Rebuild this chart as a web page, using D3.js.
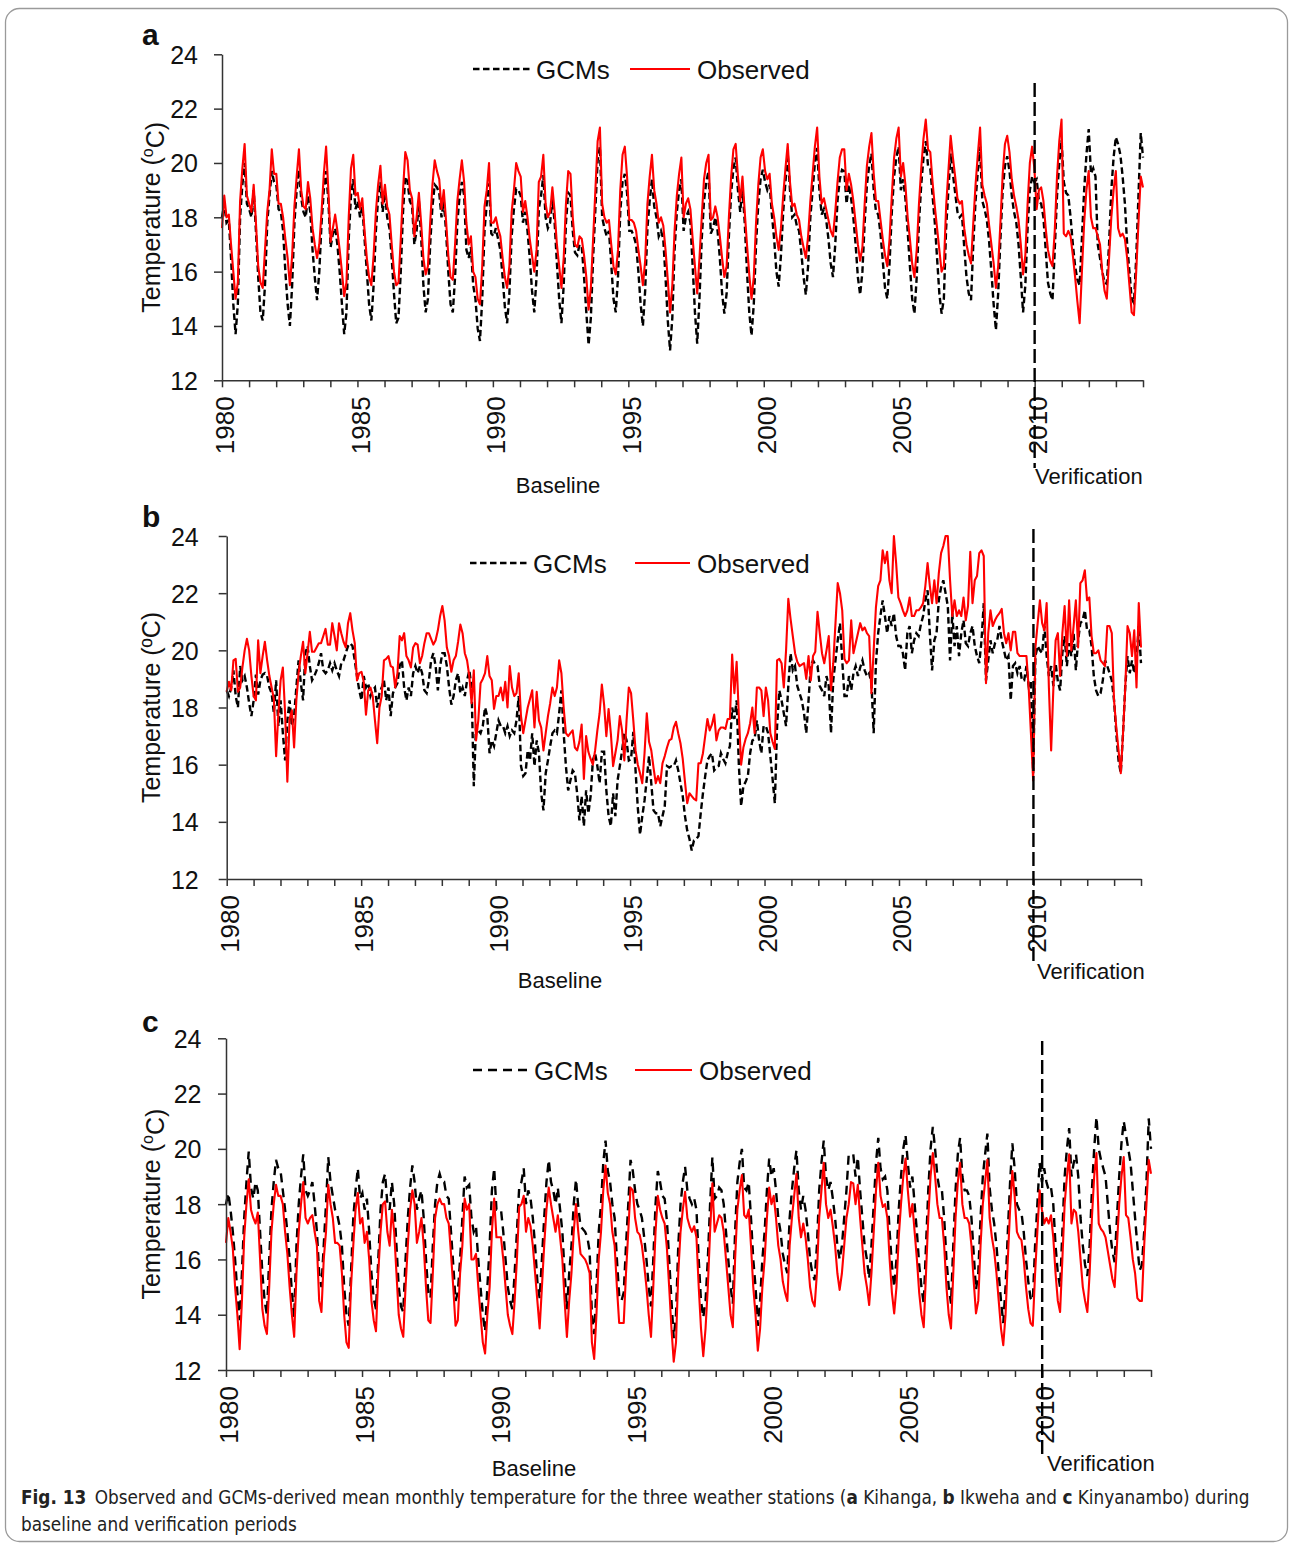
<!DOCTYPE html>
<html>
<head>
<meta charset="utf-8">
<script src="https://cdn.jsdelivr.net/npm/d3@7"></script>
<style>
  body { margin: 0; background: #fff; }
  svg text { font-family: "Liberation Sans", Arial, sans-serif; fill: #111; }
</style>
</head>
<body>
<svg id="fig" width="1290" height="1544"></svg>
<script>
// ---- data: mean monthly temperature (degC), one row per year 1980..2013 ----
var tempTicks = [12, 14, 16, 18, 20, 22, 24];
var yearTicks = d3.range(1980, 2015);
var labelledYears = [1980, 1985, 1990, 1995, 2000, 2005, 2010];
var splitYear = 2010;

// a Kihanga
var kihangaGcm = [
  [18.0, 18.5, 17.8, 17.9, 16.5, 14.8, 13.7, 14.8, 18.0, 19.2, 20.0, 18.5],
  [18.3, 18.0, 19.0, 17.5, 15.8, 14.5, 14.2, 15.5, 17.8, 18.8, 19.7, 19.3],
  [19.2, 18.3, 18.2, 17.5, 16.0, 14.8, 14.0, 15.5, 17.8, 19.0, 19.75, 18.7],
  [18.2, 18.0, 18.8, 18.2, 16.8, 15.8, 14.95, 16.0, 17.8, 19.0, 19.7, 18.6],
  [16.9, 17.4, 17.6, 17.0, 16.0, 14.8, 13.7, 14.5, 17.2, 18.8, 19.4, 18.3],
  [18.6, 18.0, 18.4, 17.2, 16.0, 14.8, 14.2, 15.5, 17.5, 18.7, 19.3, 18.2],
  [18.9, 18.0, 17.6, 16.5, 15.2, 14.1, 14.3, 16.0, 18.2, 19.5, 19.3, 18.6],
  [18.4, 17.0, 17.5, 18.6, 17.3, 15.5, 14.5, 15.0, 17.0, 18.4, 19.2, 19.1],
  [18.9, 18.0, 18.6, 17.5, 16.0, 14.8, 14.5, 15.8, 17.8, 18.8, 19.3, 18.8],
  [16.8, 16.5, 16.9, 15.5, 15.0, 13.9, 13.45, 15.0, 17.5, 18.5, 19.25, 17.4],
  [17.3, 17.6, 17.2, 16.8, 15.8, 14.7, 14.1, 15.2, 17.3, 18.3, 19.05, 19.0],
  [18.8, 17.8, 18.2, 17.5, 16.5, 15.3, 14.5, 15.8, 18.3, 18.8, 19.55, 18.0],
  [17.6, 17.8, 18.7, 17.8, 16.3, 15.0, 14.1, 15.5, 17.8, 18.9, 18.8, 17.5],
  [16.7, 16.6, 17.0, 16.9, 15.8, 14.5, 13.3, 14.3, 16.5, 18.3, 20.1, 20.6],
  [18.0, 17.6, 17.3, 17.5, 16.3, 15.0, 14.5, 15.8, 18.2, 19.3, 19.6, 18.9],
  [17.5, 17.5, 17.3, 17.0, 16.0, 14.8, 14.0, 15.3, 17.6, 18.6, 19.4, 18.4],
  [18.0, 17.3, 17.5, 17.2, 15.8, 14.2, 13.1, 14.3, 16.8, 18.2, 19.0, 19.4],
  [17.5, 18.0, 18.2, 17.8, 16.2, 14.5, 13.35, 15.0, 17.2, 18.6, 19.3, 19.7],
  [17.4, 17.6, 18.0, 17.5, 16.5, 15.2, 14.45, 15.2, 17.3, 18.9, 19.8, 20.2],
  [19.0, 18.2, 19.1, 17.8, 16.0, 14.5, 13.65, 14.8, 17.0, 18.5, 19.4, 19.75],
  [19.3, 19.0, 19.2, 18.1, 17.2, 16.0, 15.45, 16.6, 18.2, 19.3, 20.35, 19.0],
  [18.0, 18.1, 17.7, 17.5, 16.7, 15.8, 15.15, 16.2, 18.0, 19.0, 20.0, 20.55],
  [19.0, 18.1, 18.3, 17.9, 17.2, 16.3, 15.8, 17.0, 18.6, 19.4, 19.75, 19.7],
  [18.5, 19.2, 18.7, 18.0, 17.0, 15.8, 15.15, 16.0, 17.8, 19.2, 19.9, 20.35],
  [19.0, 18.2, 18.1, 17.4, 16.4, 15.4, 15.0, 16.3, 18.2, 19.5, 20.2, 20.6],
  [19.0, 19.4, 18.7, 17.5, 16.2, 15.0, 14.45, 15.8, 17.8, 19.2, 20.2, 20.8],
  [19.9, 19.8, 18.8, 17.8, 16.5, 15.2, 14.45, 15.0, 17.6, 19.0, 20.35, 19.6],
  [18.9, 18.2, 18.0, 18.1, 16.9, 15.8, 15.2, 14.95, 17.0, 18.6, 19.7, 20.6],
  [18.6, 18.3, 17.9, 17.1, 16.0, 14.8, 13.85, 15.2, 17.2, 19.0, 19.9, 20.25],
  [19.7, 18.8, 18.2, 17.8, 17.0, 15.8, 14.5, 15.5, 17.6, 19.0, 19.5, 19.3],
  [19.4, 18.6, 18.5, 18.0, 16.8, 15.6, 15.2, 14.95, 16.8, 18.8, 20.0, 20.85],
  [19.3, 18.9, 18.8, 18.0, 17.0, 16.2, 15.7, 15.5, 17.2, 19.0, 20.3, 21.25],
  [19.6, 19.8, 19.5, 17.0, 16.5, 16.0, 15.6, 15.55, 17.0, 19.0, 20.2, 20.95],
  [20.7, 20.3, 19.5, 18.5, 17.0, 16.0, 15.0, 14.85, 16.5, 18.8, 21.1, 20.2]
];
var kihangaObs = [
  [17.6, 18.8, 18.0, 18.1, 17.0, 16.0, 15.0, 15.6, 18.6, 19.8, 20.7, 18.8],
  [18.5, 18.2, 19.2, 17.8, 16.2, 15.6, 15.4, 16.8, 18.2, 19.0, 20.5, 19.6],
  [19.6, 18.5, 18.5, 18.0, 17.2, 16.5, 15.5, 16.6, 18.4, 19.5, 20.5, 19.0],
  [18.4, 18.3, 19.3, 18.7, 17.6, 17.0, 16.5, 17.0, 18.2, 19.6, 20.6, 19.0],
  [17.1, 17.6, 18.1, 17.5, 16.8, 16.0, 15.1, 15.6, 18.0, 19.8, 20.3, 18.8],
  [18.9, 18.3, 18.7, 17.5, 16.5, 15.8, 15.5, 16.6, 18.2, 19.2, 19.9, 18.5],
  [19.2, 18.4, 18.1, 17.0, 16.0, 15.5, 15.6, 17.2, 19.0, 20.4, 20.1, 19.0],
  [18.7, 17.3, 18.0, 18.9, 17.8, 16.5, 15.9, 16.2, 17.8, 19.2, 20.1, 19.7],
  [19.4, 18.3, 19.0, 17.9, 16.6, 15.8, 15.7, 17.0, 18.6, 19.4, 20.1, 19.3],
  [17.8, 17.0, 17.3, 16.0, 15.8, 15.0, 14.8, 16.2, 18.4, 19.0, 20.0, 17.8],
  [17.8, 18.0, 17.6, 17.3, 16.5, 15.8, 15.4, 16.2, 18.2, 19.0, 20.0, 19.7],
  [19.5, 18.2, 18.6, 18.0, 17.2, 16.6, 16.0, 16.8, 19.3, 19.5, 20.3, 18.5],
  [18.0, 18.2, 19.1, 18.2, 17.0, 16.2, 15.4, 16.5, 18.5, 19.7, 19.6, 18.0],
  [17.0, 16.9, 17.3, 17.2, 16.6, 15.8, 14.6, 15.4, 17.2, 19.0, 20.8, 21.3],
  [18.5, 18.0, 17.8, 17.9, 17.0, 16.2, 15.9, 16.8, 19.0, 20.3, 20.6, 19.5],
  [17.9, 17.9, 17.8, 17.5, 16.8, 16.2, 15.5, 16.4, 18.5, 19.5, 20.3, 19.0],
  [18.5, 17.8, 18.0, 17.7, 16.8, 15.7, 14.5, 15.5, 17.5, 18.8, 19.6, 20.2],
  [18.0, 18.5, 18.7, 18.3, 17.2, 16.2, 15.2, 16.5, 18.0, 19.4, 20.0, 20.3],
  [17.9, 18.0, 18.4, 18.0, 17.3, 16.5, 15.8, 16.2, 18.0, 19.5, 20.5, 20.7],
  [19.5, 18.6, 19.5, 18.2, 17.0, 15.9, 15.0, 15.8, 17.8, 19.2, 20.2, 20.5],
  [19.7, 19.4, 19.6, 18.5, 18.0, 17.3, 16.8, 17.6, 18.8, 19.8, 20.7, 19.3],
  [18.4, 18.5, 18.1, 17.9, 17.3, 16.9, 16.5, 17.3, 18.6, 19.6, 20.6, 21.3],
  [19.5, 18.5, 18.7, 18.3, 17.9, 17.5, 17.3, 18.2, 19.3, 20.2, 20.5, 20.5],
  [19.0, 19.6, 19.2, 18.6, 17.8, 17.0, 16.4, 16.9, 18.5, 19.9, 20.6, 21.1],
  [19.6, 18.6, 18.6, 17.9, 17.2, 16.6, 16.2, 17.2, 18.8, 20.2, 20.9, 21.3],
  [19.5, 20.0, 19.2, 18.0, 17.2, 16.3, 15.8, 16.8, 18.5, 19.8, 20.9, 21.6],
  [20.5, 20.4, 19.3, 18.4, 17.6, 16.8, 16.0, 16.2, 18.4, 19.7, 21.0, 20.2],
  [19.5, 18.7, 18.5, 18.6, 17.6, 17.0, 16.6, 16.3, 17.8, 19.2, 20.3, 21.3],
  [19.2, 18.8, 18.5, 17.7, 17.0, 16.3, 15.4, 16.2, 17.8, 19.6, 20.7, 21.0],
  [20.4, 19.4, 18.8, 18.4, 17.9, 17.0, 15.9, 16.6, 18.5, 20.0, 20.6, 19.8],
  [18.3, 19.0, 19.1, 18.6, 17.6, 16.8, 16.4, 16.2, 17.5, 19.5, 20.8, 21.6],
  [17.4, 17.3, 17.5, 17.3, 16.6, 15.8, 14.9, 14.1, 16.0, 17.8, 19.0, 19.7],
  [18.0, 17.6, 17.6, 17.3, 17.0, 16.0, 15.3, 15.0, 16.5, 18.0, 19.0, 19.7],
  [17.6, 17.3, 17.4, 17.2, 16.5, 15.5, 14.5, 14.4, 16.0, 17.8, 19.5, 19.1]
];

// b Ikweha
var ikwehaGcm = [
  [18.6, 18.4, 18.7, 19.3, 18.4, 18.0, 19.45, 18.95, 19.1, 18.7, 18.15, 17.7],
  [18.25, 19.15, 18.45, 18.95, 19.15, 19.2, 19.1, 18.7, 18.5, 17.8, 18.95, 17.35],
  [18.25, 17.1, 16.15, 17.55, 18.25, 17.35, 17.7, 18.7, 19.65, 18.85, 18.25, 19.9],
  [20.15, 19.45, 18.95, 19.1, 19.3, 19.55, 19.9, 19.3, 19.2, 19.3, 19.55, 19.3],
  [19.55, 19.3, 19.1, 19.55, 19.65, 19.9, 20.15, 20.25, 20.15, 19.65, 19.1, 18.6],
  [18.25, 19.1, 18.7, 18.85, 18.4, 18.6, 18.7, 18.0, 18.5, 18.7, 18.95, 18.25],
  [18.7, 17.7, 18.5, 18.7, 18.85, 19.45, 19.65, 18.7, 18.25, 18.7, 18.4, 19.2],
  [19.45, 19.2, 19.45, 19.2, 18.6, 18.5, 18.95, 19.65, 19.9, 19.45, 18.6, 19.45],
  [19.9, 19.9, 19.45, 18.7, 18.1, 18.4, 18.95, 19.2, 18.5, 18.7, 18.4, 18.95],
  [19.3, 18.7, 15.25, 17.35, 17.2, 17.1, 17.35, 18.0, 17.7, 16.4, 16.85, 16.65],
  [17.1, 17.55, 17.35, 17.35, 17.1, 17.35, 17.0, 17.2, 17.1, 17.55, 18.4, 15.95],
  [15.6, 15.7, 16.5, 16.15, 17.1, 15.95, 16.85, 16.4, 15.0, 14.4, 15.7, 16.15],
  [16.65, 17.1, 17.2, 17.1, 17.8, 18.6, 17.1, 15.95, 15.1, 15.45, 15.8, 15.7],
  [15.0, 14.05, 14.9, 13.85, 15.1, 14.3, 14.9, 16.15, 16.4, 15.95, 15.35, 16.45],
  [16.45, 15.1, 14.2, 13.85, 15.0, 14.2, 15.45, 15.95, 16.5, 17.1, 16.85, 16.15],
  [16.2, 17.15, 15.8, 14.5, 13.55, 14.2, 14.75, 15.5, 16.3, 15.35, 14.4, 14.3],
  [14.3, 13.85, 14.2, 14.55, 15.95, 15.9, 15.95, 15.95, 16.15, 15.8, 15.35, 14.9],
  [14.2, 13.7, 13.4, 13.0, 13.35, 13.4, 13.5, 14.3, 15.0, 15.6, 16.15, 16.3],
  [16.4, 15.8, 15.9, 15.95, 16.4, 16.2, 16.05, 16.4, 16.65, 18.0, 17.6, 18.25],
  [15.95, 14.55, 15.25, 15.4, 15.6, 16.4, 16.85, 16.9, 17.55, 16.85, 16.4, 17.35],
  [17.35, 17.1, 16.3, 15.5, 14.65, 17.35, 18.6, 18.25, 17.8, 17.35, 18.75, 19.9],
  [19.3, 19.45, 18.75, 18.5, 18.25, 17.8, 17.1, 18.25, 19.45, 19.65, 19.5, 19.45],
  [18.75, 18.6, 18.4, 19.1, 18.75, 17.1, 18.95, 19.65, 20.35, 20.95, 19.65, 18.4],
  [18.4, 19.1, 18.6, 19.2, 19.45, 19.1, 19.4, 19.65, 19.3, 19.1, 19.2, 18.85],
  [17.1, 19.55, 20.6, 21.2, 21.75, 21.2, 20.6, 21.2, 20.85, 21.3, 20.5, 20.15],
  [20.15, 19.9, 19.3, 20.6, 20.85, 19.9, 20.35, 20.6, 20.5, 20.9, 21.2, 21.75],
  [22.1, 20.6, 19.3, 20.35, 20.6, 21.75, 22.2, 22.45, 22.0, 21.55, 19.65, 21.3],
  [20.15, 20.85, 19.8, 20.6, 21.05, 20.25, 20.15, 20.6, 20.85, 20.15, 19.8, 19.55],
  [20.35, 21.65, 18.95, 19.65, 20.35, 19.9, 20.25, 20.35, 20.85, 20.35, 20.0, 19.65],
  [19.8, 18.25, 19.45, 19.55, 19.2, 19.45, 18.95, 18.95, 19.45, 18.75, 18.9, 15.7],
  [19.8, 20.15, 20.0, 19.9, 20.85, 19.8, 19.1, 19.45, 18.75, 19.55, 18.9, 18.6],
  [19.9, 20.5, 19.45, 20.25, 19.8, 20.6, 19.3, 20.35, 20.95, 21.05, 21.4, 20.7],
  [20.7, 20.15, 19.1, 18.6, 18.4, 18.5, 18.95, 19.65, 19.45, 19.2, 18.95, 18.25],
  [17.1, 16.15, 15.7, 17.1, 18.75, 19.8, 19.2, 19.65, 19.2, 19.65, 20.85, 19.55]
];
var ikwehaObs = [
  [18.55, 18.9, 18.6, 19.65, 19.7, 18.55, 18.7, 19.4, 20.0, 20.4, 20.0, 19.1],
  [18.4, 18.25, 20.35, 19.2, 19.8, 20.3, 19.65, 19.1, 18.7, 18.3, 16.3, 17.8],
  [18.95, 19.4, 17.8, 15.4, 17.6, 17.9, 16.6, 18.25, 19.2, 19.8, 20.3, 19.2],
  [19.9, 20.65, 19.95, 19.95, 20.1, 20.25, 20.25, 20.5, 20.75, 20.2, 20.2, 20.95],
  [20.5, 20.0, 20.95, 20.6, 20.3, 20.1, 20.95, 21.3, 20.7, 20.25, 18.95, 19.2],
  [19.25, 18.9, 17.75, 18.6, 18.7, 18.4, 17.55, 16.75, 18.0, 18.4, 19.65, 19.7],
  [19.8, 19.45, 19.4, 18.7, 19.2, 20.5, 20.35, 20.6, 19.8, 19.65, 19.4, 20.1],
  [20.25, 20.2, 19.55, 19.8, 20.25, 20.6, 20.6, 20.4, 20.2, 20.35, 20.7, 21.2],
  [21.55, 21.05, 20.1, 19.8, 19.25, 19.65, 19.8, 20.3, 20.9, 20.6, 19.9, 19.65],
  [19.1, 18.15, 19.3, 16.85, 17.55, 18.85, 19.0, 19.2, 19.8, 19.1, 18.95, 17.95],
  [18.4, 18.4, 18.7, 18.25, 18.9, 18.0, 19.45, 18.7, 18.4, 18.5, 19.2, 17.7],
  [17.1, 17.55, 18.0, 18.3, 18.6, 17.3, 18.55, 17.55, 17.3, 16.5, 17.1, 17.7],
  [18.15, 18.7, 18.4, 18.7, 19.65, 19.2, 18.0, 17.1, 17.0, 17.1, 17.2, 16.6],
  [16.5, 16.8, 17.4, 15.5, 17.0, 16.45, 16.2, 16.0, 16.5, 17.2, 17.8, 18.8],
  [18.1, 17.0, 17.95, 17.1, 15.95, 16.4, 16.85, 17.7, 17.2, 16.15, 17.55, 18.7],
  [18.5, 17.55, 16.5, 16.0, 15.7, 15.35, 16.4, 17.8, 16.8, 16.5, 15.9, 15.35],
  [15.6, 15.35, 16.05, 16.3, 16.6, 16.85, 16.9, 17.3, 17.5, 17.1, 16.75, 16.2],
  [15.4, 14.65, 15.0, 14.9, 14.8, 14.75, 16.05, 16.05, 16.4, 17.0, 17.6, 17.2],
  [17.4, 17.75, 16.85, 17.2, 17.3, 17.3, 17.25, 17.6, 17.6, 19.85, 18.5, 19.6],
  [17.7, 16.0, 16.6, 16.9, 17.1, 17.45, 18.0, 17.1, 18.7, 18.7, 18.6, 17.7],
  [18.7, 18.25, 17.1, 16.8, 16.55, 19.65, 19.7, 19.55, 18.7, 20.0, 21.8, 21.1],
  [20.5, 19.9, 19.6, 19.45, 19.5, 19.55, 19.0, 19.8, 18.95, 19.8, 19.95, 21.35],
  [20.6, 19.9, 19.55, 20.0, 20.5, 18.6, 19.55, 20.95, 22.35, 22.0, 21.4, 19.7],
  [19.55, 19.65, 21.05, 19.9, 20.25, 20.6, 20.95, 20.7, 20.8, 20.6, 20.5, 18.5],
  [20.0, 21.5, 22.25, 22.45, 23.5, 23.05, 23.45, 22.45, 22.0, 24.0, 23.05, 21.85],
  [21.65, 21.4, 21.2, 21.4, 21.85, 21.2, 21.2, 21.4, 21.4, 21.5, 21.65, 22.25],
  [23.05, 22.25, 21.65, 22.45, 21.65, 22.7, 23.4, 23.65, 24.0, 24.0, 22.45, 21.2],
  [21.75, 21.2, 21.4, 21.2, 21.85, 21.05, 21.55, 23.45, 21.65, 22.45, 22.6, 23.4],
  [23.5, 23.3, 18.85, 20.6, 21.4, 20.85, 21.05, 21.2, 21.3, 21.45, 20.6, 20.25],
  [20.6, 20.0, 20.65, 20.65, 19.9, 19.8, 19.8, 19.8, 19.8, 18.7, 17.1, 15.45],
  [20.1, 20.95, 21.75, 20.95, 20.7, 21.65, 18.7, 16.5, 18.7, 20.35, 20.6, 19.1],
  [20.6, 21.55, 19.8, 21.75, 20.0, 20.85, 21.75, 20.1, 22.35, 22.45, 22.8, 21.75],
  [21.85, 20.5, 19.9, 19.9, 20.0, 19.65, 19.55, 19.45, 20.85, 20.85, 20.6, 18.25],
  [17.3, 16.5, 15.7, 17.1, 18.7, 20.85, 20.6, 19.8, 20.7, 18.7, 21.65, 20.1]
];

// c Kinyanambo
var kinyanamboGcm = [
  [18.0, 18.4, 17.8, 17.0, 16.0, 14.8, 13.8, 15.5, 17.5, 18.8, 19.9, 18.6],
  [18.2, 18.8, 18.5, 17.0, 15.5, 14.5, 14.0, 16.0, 17.8, 18.8, 19.6, 19.3],
  [19.2, 18.5, 17.8, 17.0, 16.0, 14.8, 13.9, 16.5, 18.0, 19.0, 19.8, 18.5],
  [18.3, 18.5, 18.8, 18.0, 17.0, 15.5, 15.0, 16.5, 18.0, 19.7, 18.8, 18.3],
  [17.8, 17.6, 17.2, 16.5, 15.0, 14.0, 13.6, 15.5, 17.5, 18.5, 19.3, 18.2],
  [18.4, 17.8, 18.2, 17.0, 15.5, 14.6, 14.2, 16.0, 17.8, 18.8, 19.1, 18.0],
  [17.8, 18.8, 18.0, 16.5, 15.0, 14.3, 14.1, 16.0, 17.5, 18.6, 19.4, 18.8],
  [17.8, 18.2, 18.5, 17.5, 16.0, 14.8, 14.6, 16.5, 18.0, 18.8, 19.1, 18.8],
  [18.8, 18.3, 18.2, 17.0, 15.8, 14.5, 14.8, 16.0, 17.5, 19.0, 18.6, 18.7],
  [17.5, 17.0, 17.2, 16.0, 15.0, 14.0, 13.4, 15.0, 16.5, 18.5, 19.3, 17.8],
  [17.8, 17.8, 17.0, 16.0, 15.0, 14.5, 14.2, 15.5, 17.0, 18.6, 18.8, 19.3],
  [18.0, 18.5, 18.2, 17.5, 16.5, 15.2, 14.6, 16.0, 17.5, 18.8, 19.6, 18.8],
  [18.5, 18.0, 18.6, 17.8, 17.0, 15.5, 14.2, 15.5, 16.5, 18.0, 18.9, 17.9],
  [17.2, 17.1, 17.0, 16.8, 16.3, 14.0, 13.3, 15.0, 17.0, 18.0, 19.5, 20.3],
  [19.2, 18.8, 18.0, 17.5, 16.0, 14.7, 14.5, 14.8, 16.5, 18.0, 19.6, 19.2],
  [18.5, 18.0, 17.8, 17.5, 16.8, 16.0, 15.0, 14.3, 16.0, 18.0, 19.2, 18.8],
  [18.3, 18.2, 17.4, 16.0, 14.5, 13.15, 14.0, 16.5, 18.0, 18.8, 19.35, 18.5],
  [18.2, 18.0, 18.2, 17.8, 16.0, 14.5, 13.9, 14.5, 16.0, 18.0, 19.7, 18.2],
  [18.3, 18.6, 18.5, 18.0, 17.0, 16.0, 15.0, 14.4, 17.0, 18.8, 19.5, 20.0],
  [18.6, 18.5, 18.8, 17.5, 16.0, 15.0, 13.6, 14.5, 16.0, 17.0, 18.5, 19.65],
  [19.0, 19.3, 18.5, 17.5, 17.0, 16.2, 15.8, 15.5, 17.5, 18.5, 19.3, 19.95],
  [18.5, 17.8, 18.3, 17.8, 17.0, 16.0, 15.5, 15.25, 16.5, 18.5, 19.5, 20.3],
  [19.0, 18.5, 18.8, 18.2, 17.5, 16.5, 16.0, 16.5, 17.5, 18.5, 19.8, 19.8],
  [19.8, 19.0, 19.7, 18.5, 17.5, 16.5, 16.0, 15.3, 16.5, 18.0, 19.5, 20.4],
  [19.3, 18.9, 19.0, 18.5, 17.0, 15.8, 15.0, 16.0, 17.8, 19.0, 20.0, 20.5],
  [19.5, 18.6, 19.0, 18.0, 17.0, 15.8, 15.0, 14.4, 16.5, 18.5, 20.0, 20.8],
  [20.0, 19.0, 18.5, 18.5, 17.5, 16.0, 15.0, 14.4, 16.5, 18.5, 19.8, 20.4],
  [19.0, 18.5, 18.5, 18.3, 17.5, 16.2, 14.9, 15.5, 17.5, 19.0, 19.8, 20.55],
  [18.6, 17.8, 17.3, 16.5, 15.5, 14.5, 13.7, 15.0, 17.0, 18.8, 20.2, 19.3],
  [18.0, 17.8, 17.7, 17.0, 16.0, 15.2, 14.6, 14.5, 16.5, 18.0, 19.5, 18.8],
  [19.3, 18.8, 18.5, 18.6, 18.0, 16.5, 15.5, 15.0, 17.0, 19.0, 20.0, 20.75],
  [19.0, 19.5, 19.8, 19.0, 17.5, 16.5, 15.8, 15.4, 16.5, 18.5, 20.0, 21.15],
  [20.0, 19.6, 19.3, 19.0, 18.0, 17.0, 16.3, 15.9, 17.5, 19.0, 20.2, 21.0],
  [20.5, 20.0, 19.5, 18.5, 17.5, 16.5, 15.6, 15.8, 17.0, 18.8, 21.1, 20.0]
];
var kinyanamboObs = [
  [16.6, 17.5, 17.0, 16.4, 15.0, 14.0, 12.75, 14.5, 16.8, 18.0, 18.9, 17.8],
  [17.5, 17.3, 17.7, 16.0, 14.2, 13.6, 13.3, 15.0, 17.0, 18.0, 18.7, 18.3],
  [18.3, 18.0, 17.0, 16.2, 15.0, 14.0, 13.2, 15.5, 17.0, 18.0, 18.8, 17.5],
  [17.3, 17.5, 17.6, 17.0, 16.5, 14.5, 14.1, 16.0, 17.0, 18.7, 18.0, 17.5],
  [16.6, 16.6, 16.5, 15.5, 14.0, 13.0, 12.8, 15.0, 16.5, 17.8, 18.4, 17.3],
  [17.5, 16.6, 17.0, 16.0, 14.5, 13.8, 13.4, 15.5, 17.0, 18.0, 18.1, 17.0],
  [16.5, 17.8, 17.0, 15.5, 14.0, 13.5, 13.2, 15.0, 16.5, 17.8, 18.5, 18.0],
  [16.6, 17.0, 17.5, 16.5, 15.0, 13.8, 13.7, 15.5, 17.5, 18.0, 18.2, 18.0],
  [18.0, 17.5, 17.3, 16.2, 15.0, 13.6, 13.8, 15.5, 16.5, 18.2, 17.8, 18.0],
  [16.0, 16.0, 16.2, 15.0, 14.0, 13.0, 12.6, 14.0, 15.0, 17.0, 18.2, 16.8],
  [16.8, 16.8, 16.0, 15.0, 14.0, 13.6, 13.3, 14.5, 16.0, 17.9, 18.0, 18.3],
  [17.0, 17.5, 17.2, 16.5, 15.5, 14.5, 13.5, 15.0, 16.5, 17.8, 18.6, 18.0],
  [17.5, 17.0, 17.6, 16.8, 16.0, 14.5, 13.2, 14.5, 15.5, 17.0, 18.0, 17.0],
  [16.2, 16.1, 16.0, 15.8, 15.5, 13.0, 12.4, 14.0, 16.0, 17.0, 18.5, 19.4],
  [18.4, 18.0, 17.0, 16.5, 15.0, 13.7, 13.7, 13.7, 15.5, 17.0, 18.6, 18.5],
  [17.5, 17.0, 16.9, 16.5, 15.8, 15.0, 14.0, 13.2, 15.0, 17.0, 18.3, 17.8],
  [17.5, 17.3, 16.4, 15.0, 13.5, 12.3, 13.0, 15.5, 17.0, 17.8, 18.45, 17.5],
  [17.2, 17.0, 17.2, 16.8, 15.0, 13.5, 12.5, 13.5, 15.0, 17.0, 18.75, 17.0],
  [17.3, 17.6, 17.5, 17.0, 16.0, 15.0, 14.0, 13.55, 16.0, 17.8, 18.5, 19.05],
  [17.6, 17.5, 17.8, 16.5, 15.0, 14.0, 12.7, 13.5, 15.0, 16.0, 17.5, 18.6],
  [18.0, 18.3, 17.5, 16.5, 16.0, 15.2, 14.8, 14.5, 16.5, 17.5, 18.3, 19.1],
  [17.5, 16.8, 17.3, 16.8, 16.0, 15.0, 14.5, 14.3, 15.5, 17.5, 18.5, 19.5],
  [18.0, 17.5, 17.8, 17.2, 16.5, 15.5, 14.9, 15.5, 16.5, 17.5, 18.0, 18.8],
  [18.75, 18.0, 18.7, 17.5, 16.5, 15.5, 15.0, 14.35, 15.5, 17.0, 18.5, 19.5],
  [18.3, 17.9, 18.0, 17.5, 16.0, 14.8, 14.05, 15.0, 16.8, 18.0, 19.0, 19.65],
  [18.5, 17.55, 18.0, 17.0, 16.0, 14.8, 14.0, 13.55, 15.5, 17.5, 19.0, 19.85],
  [19.0, 18.0, 17.5, 17.5, 16.5, 15.0, 14.0, 13.5, 15.5, 17.5, 18.8, 19.5],
  [18.0, 17.5, 17.5, 17.3, 16.5, 15.2, 14.05, 14.5, 16.5, 18.0, 18.8, 19.6],
  [17.5, 16.8, 16.3, 15.5, 14.5, 13.5, 12.9, 14.0, 16.0, 17.8, 19.2, 18.3],
  [17.0, 16.8, 16.7, 16.0, 15.0, 14.2, 13.7, 13.6, 15.5, 17.0, 18.5, 17.8],
  [17.3, 17.5, 17.3, 17.6, 16.8, 15.5, 14.5, 14.1, 16.0, 18.0, 19.0, 19.8],
  [17.3, 17.8, 17.7, 17.0, 16.0, 15.0, 14.5, 14.1, 15.5, 17.5, 19.0, 19.85],
  [17.3, 17.1, 17.0, 16.8, 16.3, 15.8, 15.3, 15.0, 16.5, 18.0, 19.0, 19.7],
  [17.6, 17.5, 16.8, 16.0, 15.5, 14.6, 14.5, 14.5, 16.5, 18.0, 19.6, 19.1]
];

// ---- layout of the three panels ----
var panels = [
  { tag: "a", gcm: kihangaGcm, obs: kihangaObs, x0: 222, x1: 1143, yTop: 54.3, yBot: 380.3, yPad: 16,
    keyY: 69, gcmKey: [473, 530], obsKey: [630, 690], dash: "6.5,3.5", deg: "sup",
    splitTop: 83, splitBot: 468, baseX: 558, baseY: 493, verX: 1035, verY: 484, tagY: 45 },
  { tag: "b", gcm: ikwehaGcm, obs: ikwehaObs, x0: 226.7, x1: 1141, yTop: 536, yBot: 879, yPad: 20,
    keyY: 563, gcmKey: [470, 527], obsKey: [635, 690], dash: "6.5,3.5", deg: "ord",
    splitTop: 529, splitBot: 962, baseX: 560, baseY: 988, verX: 1037, verY: 979, tagY: 527 },
  { tag: "c", gcm: kinyanamboGcm, obs: kinyanamboObs, x0: 226, x1: 1151, yTop: 1038.3, yBot: 1370, yPad: 16.5,
    keyY: 1070, gcmKey: [473, 528], obsKey: [635, 692], dash: "9,6", deg: "sup",
    splitTop: 1041, splitBot: 1455, baseX: 534, baseY: 1476, verX: 1047, verY: 1471, tagY: 1032 }
];

var svg = d3.select("#fig");

// outer frame
svg.append("rect")
  .attr("x", 5.5).attr("y", 8.5).attr("width", 1282).attr("height", 1533)
  .attr("rx", 14).attr("fill", "none").attr("stroke", "#9a9a9a").attr("stroke-width", 1.3);

panels.forEach(drawPanel);

function drawPanel(p) {
  var g = svg.append("g");
  var x = d3.scaleLinear().domain([1980, 2014]).range([p.x0, p.x1]);
  var y = d3.scaleLinear().domain([12, 24]).range([p.yBot, p.yTop]);

  var gcm = p.gcm.flat();
  var obs = p.obs.flat();
  // monthly points spread evenly over the axis span
  var xi = d3.scaleLinear().domain([0, gcm.length - 1]).range([p.x0, p.x1]);
  var line = d3.line().x(function (d, i) { return xi(i); }).y(function (d) { return y(d); });

  g.append("path").datum(gcm).attr("d", line)
    .attr("fill", "none").attr("stroke", "#000").attr("stroke-width", 2.4)
    .attr("stroke-dasharray", p.dash);
  g.append("path").datum(obs).attr("d", line)
    .attr("fill", "none").attr("stroke", "#ff0000").attr("stroke-width", 2.1)
    .attr("stroke-linejoin", "round");

  // y axis
  var ga = g.append("g").attr("transform", "translate(" + p.x0 + ",0)")
    .call(d3.axisLeft(y).tickValues(tempTicks).tickSize(8).tickSizeOuter(0).tickPadding(p.yPad));
  ga.selectAll("text").style("font-size", "25px").attr("dy", "0.36em");

  // x axis, a tick every year, labels every five
  var gx = g.append("g").attr("transform", "translate(0," + p.yBot + ")")
    .call(d3.axisBottom(x).tickValues(yearTicks).tickSize(7).tickSizeOuter(0)
      .tickFormat(function (d) { return labelledYears.indexOf(d) >= 0 ? d : ""; }));
  gx.selectAll("text")
    .attr("transform", "rotate(-90)")
    .attr("x", -16).attr("y", 0).attr("dy", "0.45em")
    .attr("text-anchor", "end")
    .style("font-size", "26px");

  g.selectAll(".domain, .tick line").attr("stroke", "#333").attr("stroke-width", 1.5);

  // baseline / verification split
  g.append("line")
    .attr("x1", x(splitYear)).attr("x2", x(splitYear))
    .attr("y1", p.splitTop).attr("y2", p.splitBot)
    .attr("stroke", "#000").attr("stroke-width", 2.4).attr("stroke-dasharray", "14,5");

  g.append("text").attr("x", p.baseX).attr("y", p.baseY)
    .attr("text-anchor", "middle").style("font-size", "22px").text("Baseline");
  g.append("text").attr("x", p.verX).attr("y", p.verY)
    .style("font-size", "22px").text("Verification");

  // y title
  var t = g.append("text")
    .attr("transform", "translate(160," + ((p.yTop + p.yBot) / 2) + ") rotate(-90)")
    .attr("text-anchor", "middle").style("font-size", "25px");
  if (p.deg === "sup") {
    t.append("tspan").text("Temperature (");
    t.append("tspan").attr("dy", "-0.45em").style("font-size", "16px").text("o");
    t.append("tspan").attr("dy", "0.45em").text("C)");
  } else {
    t.text("Temperature (\u00baC)");
  }

  // panel letter
  g.append("text").attr("x", 142).attr("y", p.tagY)
    .style("font-size", "30px").style("font-weight", "bold").text(p.tag);

  // legend
  g.append("line").attr("x1", p.gcmKey[0]).attr("x2", p.gcmKey[1])
    .attr("y1", p.keyY).attr("y2", p.keyY)
    .attr("stroke", "#000").attr("stroke-width", 2.4).attr("stroke-dasharray", p.dash);
  g.append("text").attr("x", p.gcmKey[1] + 6).attr("y", p.keyY + 9.5)
    .style("font-size", "26px").text("GCMs");
  g.append("line").attr("x1", p.obsKey[0]).attr("x2", p.obsKey[1])
    .attr("y1", p.keyY).attr("y2", p.keyY)
    .attr("stroke", "#ff0000").attr("stroke-width", 2.1);
  g.append("text").attr("x", p.obsKey[1] + 7).attr("y", p.keyY + 9.5)
    .style("font-size", "26px").text("Observed");
}

// caption: size the font so each line spans the same width as in the figure
var capFont = "'DejaVu Sans Condensed', 'Liberation Sans Narrow', sans-serif";
function fitWidth(sel, width) {
  var w = sel.node().getComputedTextLength();
  var size = parseFloat(sel.style("font-size"));
  sel.style("font-size", (size * width / w).toFixed(2) + "px");
}

var cap = svg.append("text").attr("x", 21).attr("y", 1504)
  .style("font-family", capFont).style("font-size", "19px").style("fill", "#222");
cap.append("tspan").style("font-weight", "bold").text("Fig. 13");
cap.append("tspan").text("\u2002Observed and GCMs-derived mean monthly temperature for the three weather stations (");
cap.append("tspan").style("font-weight", "bold").text("a");
cap.append("tspan").text(" Kihanga, ");
cap.append("tspan").style("font-weight", "bold").text("b");
cap.append("tspan").text(" Ikweha and ");
cap.append("tspan").style("font-weight", "bold").text("c");
cap.append("tspan").text(" Kinyanambo) during");
fitWidth(cap, 1229);

var cap2 = svg.append("text").attr("x", 21).attr("y", 1531)
  .style("font-family", capFont).style("font-size", cap.style("font-size")).style("fill", "#222")
  .text("baseline and verification periods");
</script>
</body>
</html>
